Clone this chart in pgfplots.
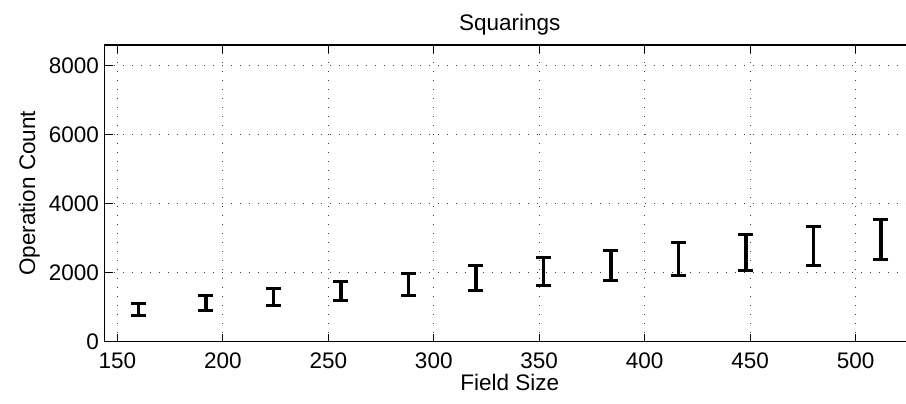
\documentclass[border=0pt]{standalone}
\usepackage{fontspec}
\setmainfont{Liberation Sans}
\usepackage{pgfplots}
\pgfplotsset{compat=1.18}
\begin{document}
\fontsize{22.5}{26}\selectfont
\begin{tikzpicture}[x=1pt,y=1pt]
\begin{axis}[
  at={(104.7pt,62.3pt)}, anchor=south west,
  scale only axis, width=810pt, height=296.7pt,
  xmin=144, xmax=528, ymin=0, ymax=8600,
  xtick={150,200,...,500}, ytick={0,2000,...,8000},
  /pgf/number format/assume math mode=true,
  /pgf/number format/1000 sep={},
  tick align=inside, major tick length=8pt,
  xtick pos=both, ytick pos=left,
  tick style={line width=1.2pt, black},
  axis line style={line width=1.3pt},
  grid=major,
  major grid style={black!75, line width=1pt, dash pattern=on 1pt off 8pt},
  title={Squarings}, title style={yshift=-4pt},
  xlabel={Field Size}, ylabel={Operation Count},
  xlabel style={yshift=9pt}, ylabel style={yshift=-6pt},
  tick label style={font=\fontsize{22.5}{26}\selectfont},
  label style={font=\fontsize{22.5}{26}\selectfont},
  xticklabel style={yshift=-3pt},
  yticklabel style={xshift=2pt},
]
\addplot[draw=none, mark=none,
  error bars/.cd, y dir=both, y explicit, error mark=|,
  error bar style={line width=3.3pt, black},
  error mark options={mark size=7.5pt, line width=3pt, black, draw=black}]
table[x=x, y=m, y error=e] {
x m e
160 934 166
192 1114 218
224 1297.5 238.5
256 1475.5 271.5
288 1668.5 319.5
320 1848.5 363.5
352 2037 398
384 2215.5 431.5
416 2404 475
448 2588.5 514.5
480 2773 562
512 2970 585
};
\end{axis}
\pgfresetboundingbox
\useasboundingbox (0,0) rectangle (906pt,404pt);
\end{tikzpicture}
\end{document}
